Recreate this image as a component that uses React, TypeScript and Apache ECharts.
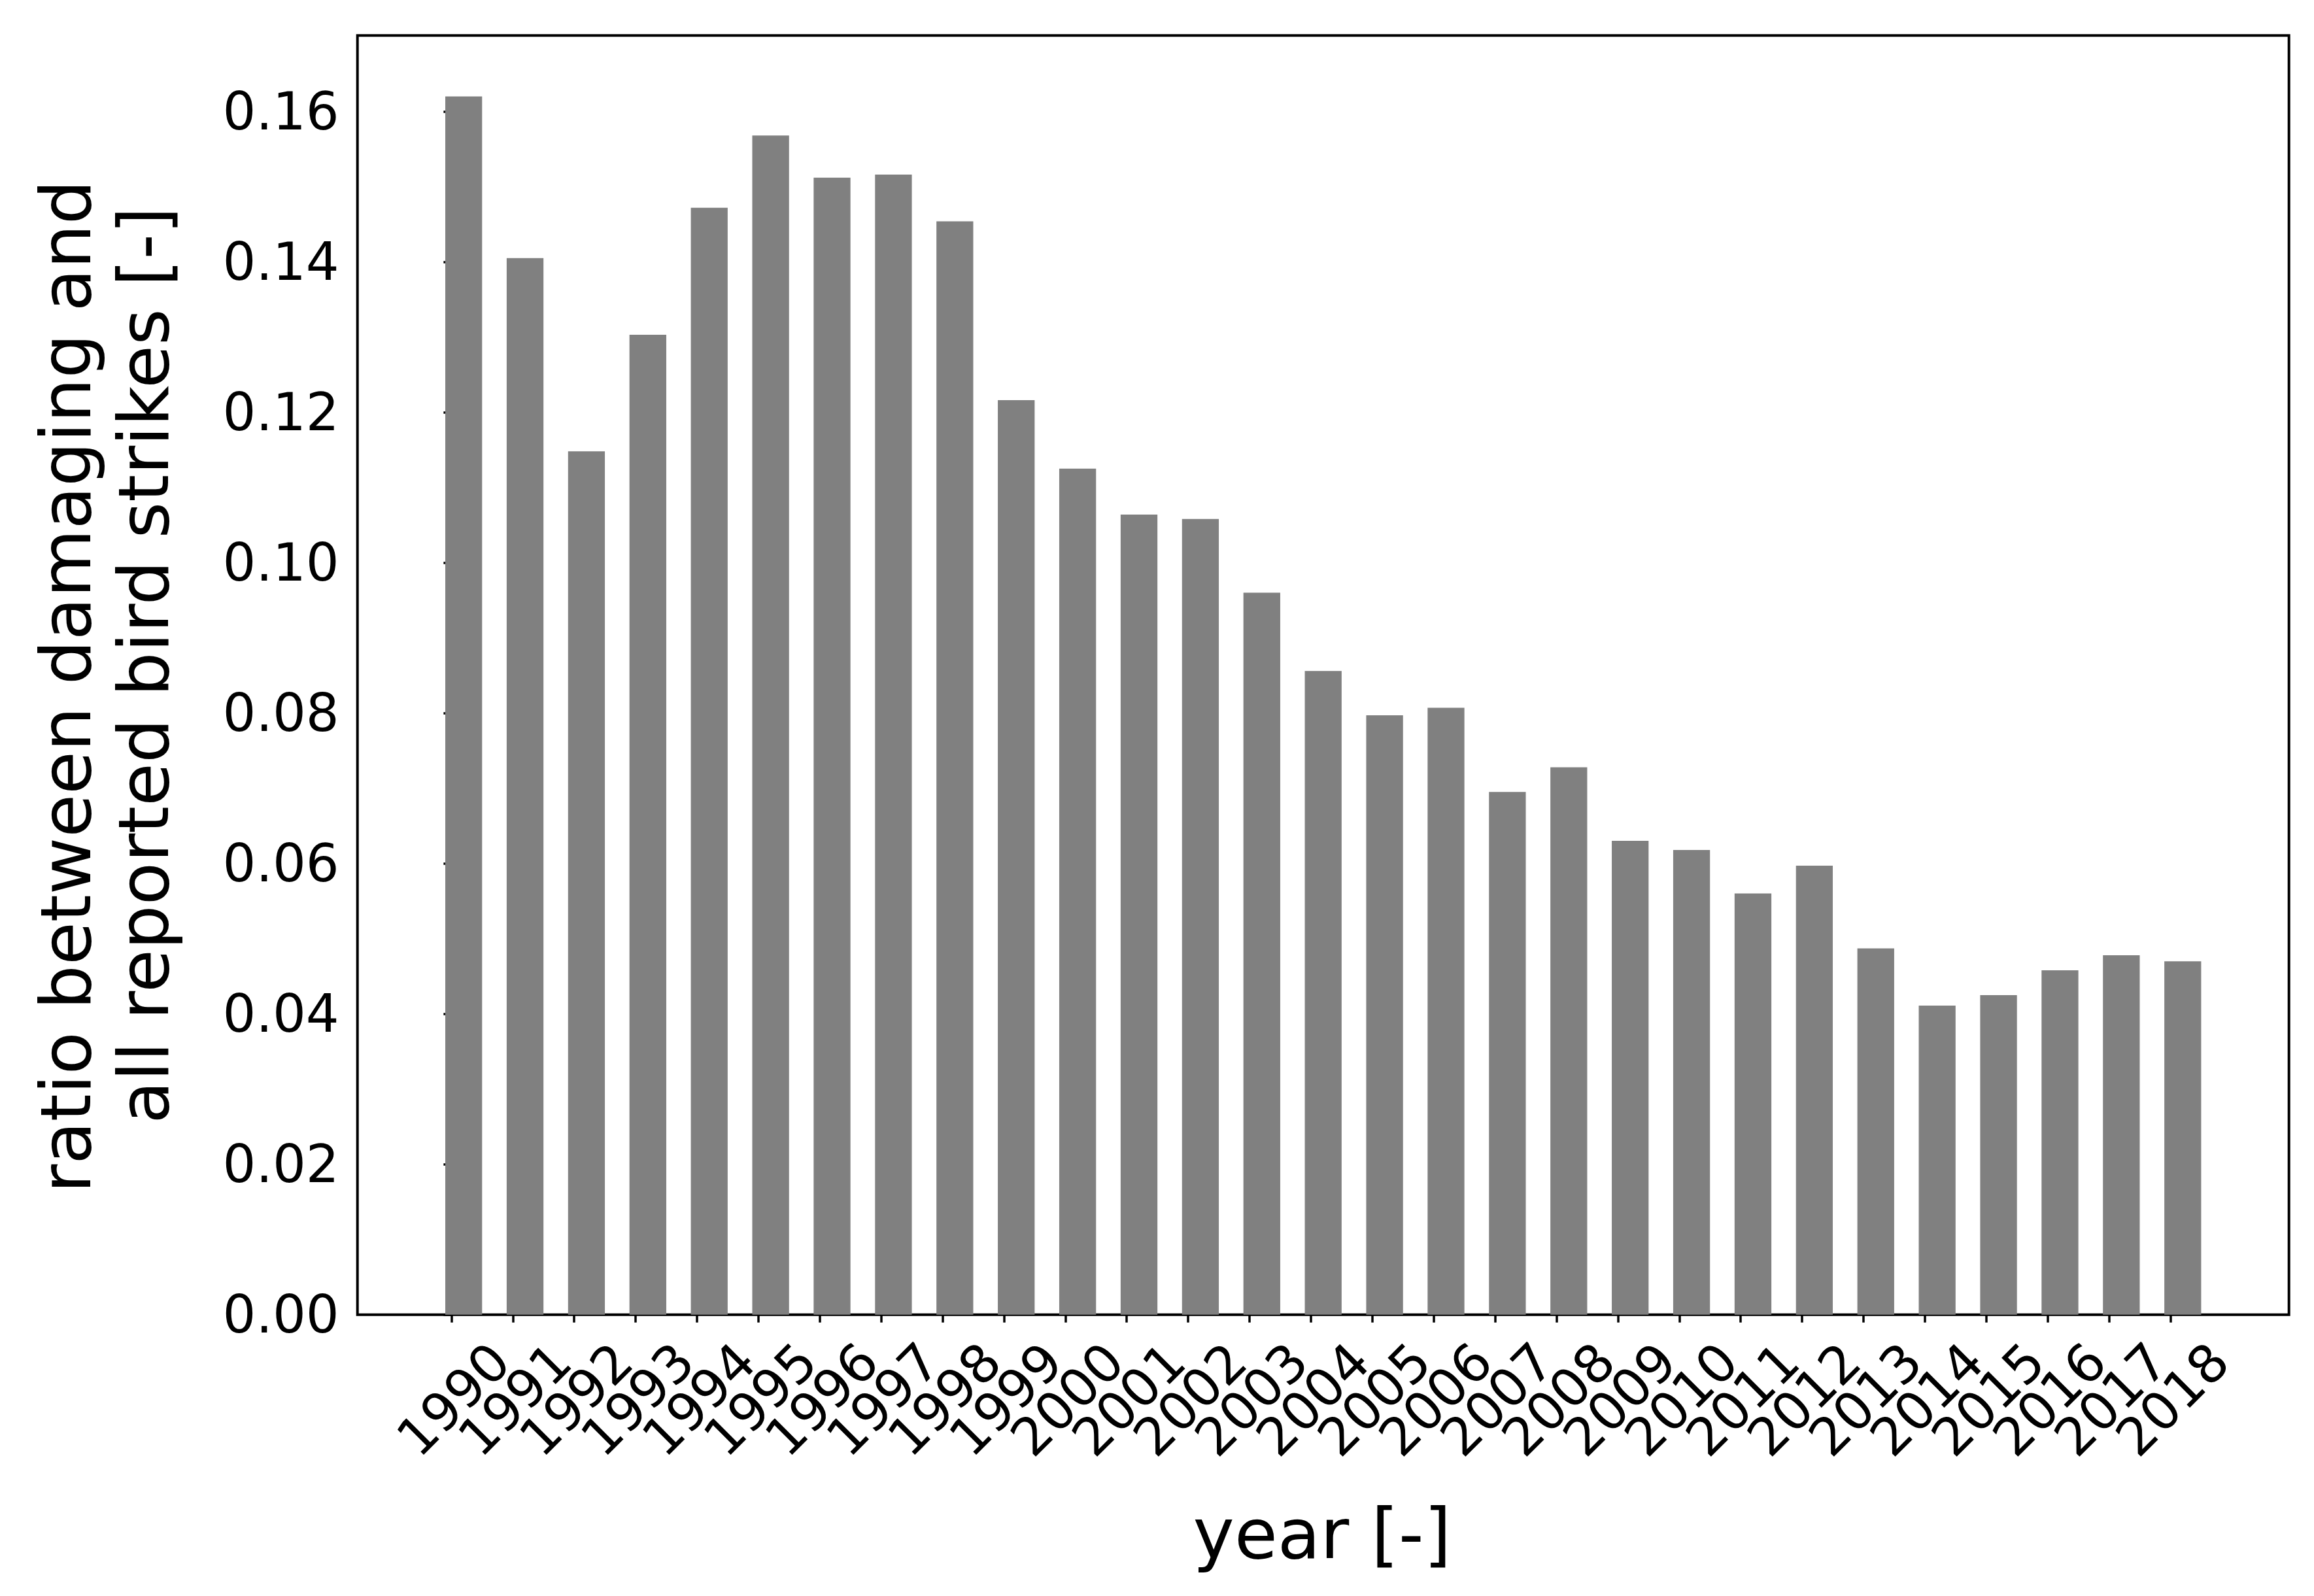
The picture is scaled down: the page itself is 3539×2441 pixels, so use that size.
import React, { useEffect, useRef } from "react";
import * as echarts from "echarts";

const years = [
  "1990", "1991", "1992", "1993", "1994", "1995", "1996", "1997", "1998", "1999",
  "2000", "2001", "2002", "2003", "2004", "2005", "2006", "2007", "2008", "2009",
  "2010", "2011", "2012", "2013", "2014", "2015", "2016", "2017", "2018",
];

const ratios = [
  0.1620, 0.1405, 0.1148, 0.1303, 0.1472, 0.1568, 0.1512, 0.1516, 0.1454, 0.1216,
  0.1125, 0.1064, 0.1058, 0.0960, 0.0856, 0.0797, 0.0807, 0.0695, 0.0728, 0.0630,
  0.0618, 0.0560, 0.0597, 0.0487, 0.0411, 0.0425, 0.0458, 0.0478, 0.0470,
];

const yTicks = [0, 0.02, 0.04, 0.06, 0.08, 0.1, 0.12, 0.14, 0.16];

const yLabelLines = ["ratio between damaging and", "all reported bird strikes [-]"];
const xLabel = "year [-]";

const FONT = "DejaVu Sans";
const BAR_OFFSET = 0.2;
const LABEL_SHIFT = 0.8;
const X_MIN = -1.53;
const X_MAX = 29.93;

export default function App() {
  const ref = useRef<HTMLDivElement>(null);

  useEffect(() => {
    const chart = echarts.init(ref.current!, null, { renderer: "svg" });
    const tickIdx = years.map((_, i) => i);
    // empty guard labels at both axis ends keep ECharts from hiding the first/last year
    const labelValues = [X_MIN, ...tickIdx.map((i) => i + LABEL_SHIFT), X_MAX];
    chart.setOption({
      animation: false,
      backgroundColor: "#ffffff",
      grid: {
        left: 546.7,
        right: 38.3,
        top: 54.3,
        bottom: 430.3,
        show: true,
        borderColor: "#000000",
        borderWidth: 4,
        backgroundColor: "transparent",
        containLabel: false,
      },
      xAxis: {
        type: "value",
        min: X_MIN,
        max: X_MAX,
        splitLine: { show: false },
        axisLine: { show: false },
        axisTick: {
          show: true,
          customValues: tickIdx,
          length: 12,
          lineStyle: { color: "#000000", width: 3.5 },
        },
        axisLabel: {
          customValues: labelValues,
          rotate: 45,
          margin: 58,
          fontSize: 80,
          fontFamily: FONT,
          color: "#000000",
          formatter: (v: number) => {
            const i = Math.round(v - LABEL_SHIFT);
            if (Math.abs(v - LABEL_SHIFT - i) > 0.01) return "";
            return years[i] ?? "";
          },
        },
      },
      yAxis: {
        type: "value",
        min: 0,
        max: 0.1701,
        splitLine: { show: false },
        axisLine: { show: false },
        axisTick: {
          show: true,
          customValues: yTicks,
          length: 12,
          lineStyle: { color: "#000000", width: 3.5 },
        },
        axisLabel: {
          customValues: yTicks,
          margin: 28,
          fontSize: 80,
          fontFamily: FONT,
          color: "#000000",
          showMinLabel: true,
          showMaxLabel: true,
          formatter: (v: number) => v.toFixed(2),
        },
      },
      series: [
        {
          type: "bar",
          data: ratios.map((v, i) => [i + BAR_OFFSET, v]),
          barWidth: 56.3,
          itemStyle: { color: "#808080" },
          silent: true,
        },
      ],
      graphic: [
        {
          type: "text",
          x: 100.7,
          y: 1050,
          rotation: Math.PI / 2,
          style: {
            text: yLabelLines[0],
            fontSize: 107,
            fontFamily: FONT,
            fill: "#000000",
            align: "center",
            verticalAlign: "middle",
            textAlign: "center",
            textVerticalAlign: "middle",
          },
        },
        {
          type: "text",
          x: 220,
          y: 1017.5,
          rotation: Math.PI / 2,
          style: {
            text: yLabelLines[1],
            fontSize: 107,
            fontFamily: FONT,
            fill: "#000000",
            align: "center",
            verticalAlign: "middle",
            textAlign: "center",
            textVerticalAlign: "middle",
          },
        },
        {
          type: "text",
          x: 2022,
          y: 2346,
          style: {
            text: xLabel,
            fontSize: 107,
            fontFamily: FONT,
            fill: "#000000",
            align: "center",
            verticalAlign: "middle",
            textAlign: "center",
            textVerticalAlign: "middle",
          },
        },
      ],
    });
    return () => chart.dispose();
  }, []);

  return (
    <div
      ref={ref}
      style={{ position: "fixed", left: 0, top: 0, width: 3539, height: 2441, background: "#ffffff" }}
    />
  );
}
